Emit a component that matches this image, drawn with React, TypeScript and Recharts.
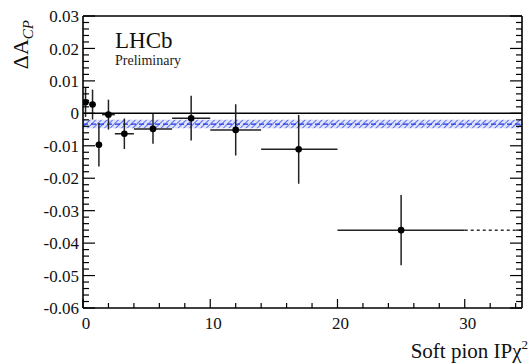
import React from 'react';
import { ComposedChart, Scatter, ErrorBar, XAxis, YAxis, ReferenceLine, ReferenceArea } from 'recharts';

// bins of the soft pion IP chi2 and the measured Delta A_CP in each
const binLow = [0, 0.5, 1, 1.5, 2.5, 4, 7, 10, 14, 20];
const binHigh = [0.5, 1, 1.5, 2.5, 4, 7, 10, 14, 20, 30];
const binMean = [0.2, 0.75, 1.25, 2.0, 3.25, 5.5, 8.5, 12.0, 16.95, 25.0];
const deltaAcp = [0.0034, 0.0027, -0.0097, -0.0004, -0.0063, -0.0048, -0.0015, -0.0051, -0.0111, -0.036];
const deltaAcpErr = [0.0045, 0.0046, 0.0067, 0.0046, 0.0047, 0.0046, 0.0069, 0.0079, 0.0106, 0.0108];

// average and its band
const average = -0.0033;
const averageErr = 0.0013;

// last bin is open ended, drawn dotted up to the axis end
const overflowX = [30, 34.5];

const xMajorTicks = [0, 10, 20, 30];
const yMajorTicks = [-0.06, -0.05, -0.04, -0.03, -0.02, -0.01, 0, 0.01, 0.02, 0.03];

const X_MAX = 34.5;
const SERIF = 'Liberation Serif';

const points = binMean.map((x, i) => ({
  x,
  y: deltaAcp[i],
  ex: [x - binLow[i], binHigh[i] - x],
  ey: deltaAcpErr[i],
}));
const overflow = overflowX.map(x => ({ x, y: deltaAcp[deltaAcp.length - 1] }));

// minor ticks: 5 per major division on y, every 2 on x
const yTicks: number[] = [];
for (let i = 0; i <= 45; i++) yTicks.push(+(-0.06 + i * 0.002).toFixed(4));
const xTicks: number[] = [];
for (let v = 0; v <= X_MAX; v += 2) xTicks.push(v);

const isMajorY = (v: number) => yMajorTicks.some(t => Math.abs(t - v) < 1e-6);
const isMajorX = (v: number) => xMajorTicks.includes(v);
const fmtY = (v: number) => (Math.abs(v) < 1e-9 ? '0' : v.toFixed(2));

const LeftTick = (props: any) => {
  const { x, y, payload } = props;
  const major = isMajorY(payload.value);
  return (
    <g>
      <line x1={x} x2={x + (major ? 12 : 6)} y1={y} y2={y} stroke="#000" strokeWidth={1.2} />
      {major && (
        <text x={x - 4} y={y} dy="0.36em" textAnchor="end" fontFamily={SERIF} fontSize={17} fill="#111">
          {fmtY(payload.value)}
        </text>
      )}
    </g>
  );
};

const RightTick = (props: any) => {
  const { x, y, payload } = props;
  const major = isMajorY(payload.value);
  return <line x1={x} x2={x - (major ? 12 : 6)} y1={y} y2={y} stroke="#000" strokeWidth={1.2} />;
};

const BottomTick = (props: any) => {
  const { x, y, payload } = props;
  const major = isMajorX(payload.value);
  return (
    <g>
      <line x1={x} x2={x} y1={y} y2={y - (major ? 9 : 5)} stroke="#000" strokeWidth={1.2} />
      {major && (
        <text x={x + 3} y={y + 21} textAnchor="middle" fontFamily={SERIF} fontSize={17} fill="#111">
          {String(payload.value)}
        </text>
      )}
    </g>
  );
};

const TopTick = (props: any) => {
  const { x, y, payload } = props;
  const major = isMajorX(payload.value);
  return <line x1={x} x2={x} y1={y} y2={y + (major ? 9 : 5)} stroke="#000" strokeWidth={1.2} />;
};

const Dot = (props: any) => <circle cx={props.cx} cy={props.cy} r={3.3} fill="#000" />;
const NoDot = () => <g />;

export default function App() {
  return (
    <div style={{ position: 'absolute', left: 0, top: 0 }}>
      <ComposedChart width={531} height={363} margin={{ top: 15, right: 8, bottom: 25, left: 23 }}>
        <defs>
          <pattern id="hatch" width="4" height="4" patternUnits="userSpaceOnUse" patternTransform="rotate(45)">
            <rect width="4" height="4" fill="#dfe3fb" />
            <line x1="0" y1="0" x2="0" y2="4" stroke="#5b6ff0" strokeWidth="2" />
          </pattern>
        </defs>
        <XAxis
          dataKey="x"
          type="number"
          domain={[0, X_MAX]}
          ticks={xTicks}
          interval={0}
          height={30}
          tickSize={0}
          tickMargin={0}
          tickLine={false}
          tick={BottomTick}
          axisLine={{ stroke: '#000', strokeWidth: 1.6 }}
          allowDataOverflow
        />
        <XAxis
          xAxisId="top"
          orientation="top"
          type="number"
          domain={[0, X_MAX]}
          ticks={xTicks}
          interval={0}
          height={1}
          tickSize={0}
          tickMargin={0}
          tickLine={false}
          tick={TopTick}
          axisLine={{ stroke: '#000', strokeWidth: 1.6 }}
          allowDataOverflow
        />
        <YAxis
          dataKey="y"
          type="number"
          domain={[-0.06, 0.03]}
          ticks={yTicks}
          interval={0}
          width={60}
          tickSize={0}
          tickMargin={0}
          tickLine={false}
          tick={LeftTick}
          axisLine={{ stroke: '#000', strokeWidth: 1.6 }}
          allowDataOverflow
        />
        <YAxis
          yAxisId="right"
          orientation="right"
          type="number"
          domain={[-0.06, 0.03]}
          ticks={yTicks}
          interval={0}
          width={1}
          tickSize={0}
          tickMargin={0}
          tickLine={false}
          tick={RightTick}
          axisLine={{ stroke: '#000', strokeWidth: 1.6 }}
          allowDataOverflow
        />
        <ReferenceArea
          y1={average - averageErr}
          y2={average + averageErr}
          fill="url(#hatch)"
          fillOpacity={1}
          stroke="none"
        />
        <ReferenceLine y={average} stroke="#1f35e6" strokeWidth={1.3} strokeDasharray="5 3" />
        <ReferenceLine y={0} stroke="#000" strokeWidth={1.5} />
        <Scatter
          data={overflow}
          line={{ stroke: '#333', strokeWidth: 1.5, strokeDasharray: '3 3' }}
          shape={NoDot}
          isAnimationActive={false}
        />
        <Scatter data={points} shape={Dot} isAnimationActive={false}>
          <ErrorBar dataKey="ey" direction="y" width={0} stroke="#222" strokeWidth={1.5} isAnimationActive={false} />
          <ErrorBar dataKey="ex" direction="x" width={0} stroke="#222" strokeWidth={1.5} isAnimationActive={false} />
        </Scatter>
      </ComposedChart>
      <svg width={531} height={363} style={{ position: 'absolute', left: 0, top: 0, pointerEvents: 'none' }}>
        <text x={115} y={48} fontFamily={SERIF} fontSize={23} fill="#111">LHCb</text>
        <text x={115} y={65} fontFamily={SERIF} fontSize={14} fill="#222">Preliminary</text>
        <text x={528} y={358} textAnchor="end" fontFamily={SERIF} fontSize={21} fill="#111">
          Soft pion IP{'\u03c7'}<tspan dy={-9} fontSize={13}>2</tspan>
        </text>
        <text transform="translate(28,20) rotate(-90)" textAnchor="end" fontFamily={SERIF} fontSize={22} fill="#111">
          {'\u0394'}A<tspan fontStyle="italic" fontSize={15} dy={5}>CP</tspan>
        </text>
      </svg>
    </div>
  );
}
